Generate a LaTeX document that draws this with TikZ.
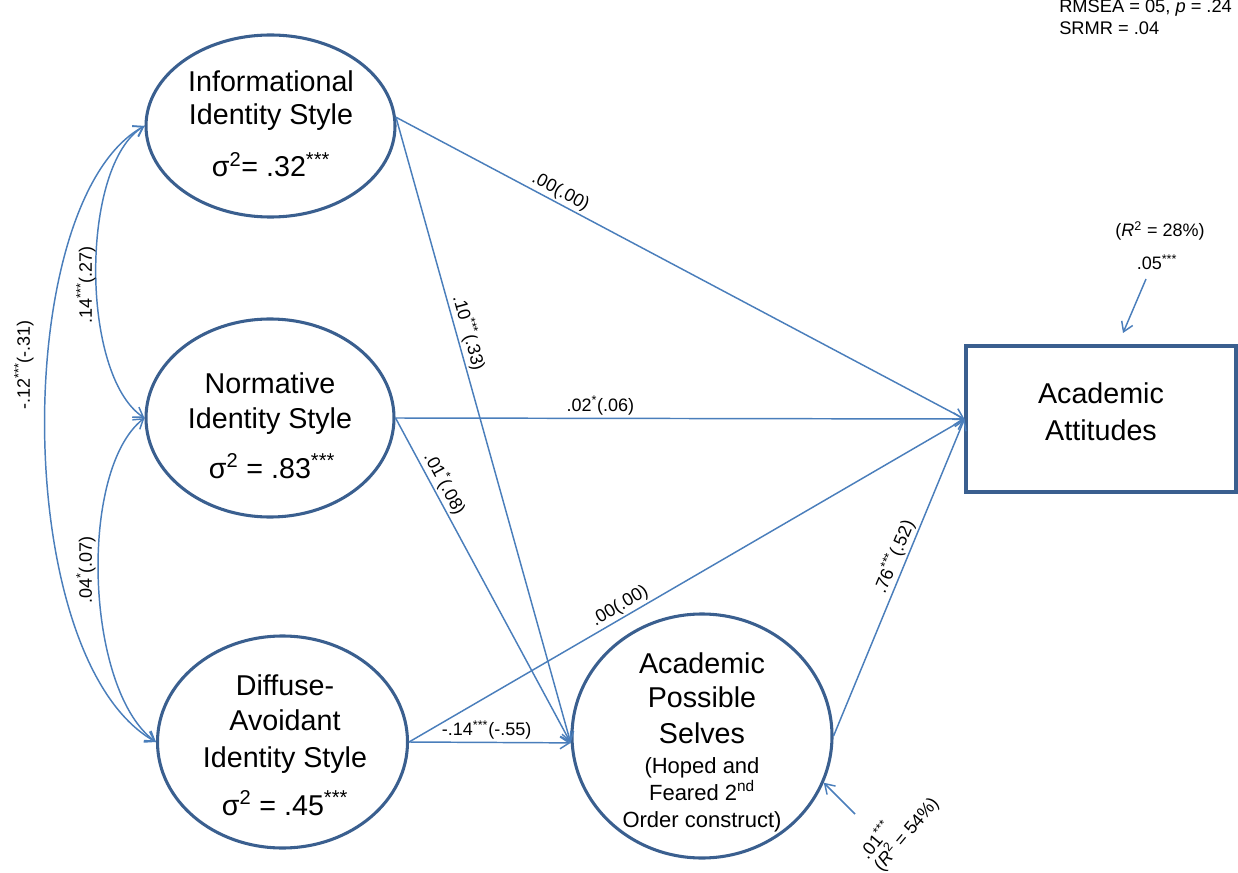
\documentclass[tikz,border=0pt]{standalone}
\usepackage{fontspec}
\setmainfont{Liberation Sans}
\usetikzlibrary{arrows.meta,shapes.geometric}
\definecolor{pathblue}{HTML}{4A7EBB}
\definecolor{shapeblue}{HTML}{3A5F8F}

\begin{document}
\begin{tikzpicture}[x=0.75pt,y=-0.75pt,
  latent/.style={ellipse,draw=shapeblue,line width=2.3pt,inner sep=0pt},
  observed/.style={rectangle,draw=shapeblue,line width=2.3pt,inner sep=0pt},
  bigtext/.style={anchor=base,inner sep=0pt,font=\fontsize{21.5}{26}\selectfont},
  smalltext/.style={anchor=base,inner sep=0pt,font=\fontsize{16.5}{20}\selectfont},
  lbl/.style={font=\fontsize{13.5}{15}\selectfont,inner sep=1.5pt},
  fitstat/.style={anchor=base west,inner sep=0pt,font=\fontsize{13.7}{16}\selectfont},
  barb/.tip={Straight Barb[length=7pt,width=9pt]},
  conn/.style={draw=pathblue,line width=1.1pt,-barb},
  cov/.style={draw=pathblue,line width=1.1pt,barb-barb}
]
\useasboundingbox (0,0) rectangle (1238,873);

% latent and observed variables
\node[latent,minimum width=186.75pt,minimum height=136.5pt] (info) at (270.5,126) {};
\node[latent,minimum width=186pt,minimum height=148.5pt] (norm) at (270,418) {};
\node[latent,minimum width=187.5pt,minimum height=159pt] (diff) at (282.5,742) {};
\node[latent,minimum width=195pt,minimum height=183pt] (aps) at (702,736) {};
\node[observed,minimum width=202.5pt,minimum height=109.5pt] (att) at (1101,419) {};

% variable texts
\node[bigtext] (infoA) at (271,92) {Informational};
\node[bigtext] (infoB) at (271,125) {Identity Style};
\node[bigtext] (infoC) at (271,177) {σ\textsuperscript{2}= .32\textsuperscript{***}};

\node[bigtext] (normA) at (270,393) {Normative};
\node[bigtext] (normB) at (270,428) {Identity Style};
\node[bigtext] (normC) at (272,478) {σ\textsuperscript{2} = .83\textsuperscript{***}};

\node[bigtext] (diffA) at (285,695) {Diffuse-};
\node[bigtext] (diffB) at (285,730) {Avoidant};
\node[bigtext] (diffC) at (285,767) {Identity Style};
\node[bigtext] (diffD) at (285,815) {σ\textsuperscript{2} = .45\textsuperscript{***}};

\node[bigtext] (apsA) at (702,673) {Academic};
\node[bigtext] (apsB) at (702,707) {Possible};
\node[bigtext] (apsC) at (702,743) {Selves};
\node[smalltext] (apsD) at (702,773) {(Hoped and};
\node[smalltext] (apsE) at (702,800) {Feared 2\textsuperscript{nd}};
\node[smalltext] (apsF) at (702,827) {Order construct)};

\node[bigtext] (attA) at (1101,403) {Academic};
\node[bigtext] (attB) at (1101,440) {Attitudes};

% structural paths
\draw[conn] (info.4) -- node[lbl,sloped,above,pos=0.28] (pIA) {.00(.00)} (att.west);
\draw[conn] (info.4) -- node[lbl,sloped,above,pos=0.35] (pIP) {.10\textsuperscript{***}(.33)} (aps.183);
\draw[conn] (norm.east) -- node[lbl,above,pos=0.36] (pNA) {.02\textsuperscript{*}(.06)} (att.west);
\draw[conn] (norm.east) -- node[lbl,sloped,above,pos=0.22] (pNP) {.01\textsuperscript{*}(.08)} (aps.183);
\draw[conn] (diff.east) -- node[lbl,sloped,above,pos=0.39] (pDA) {.00(.00)} (att.west);
\draw[conn] (diff.east) -- node[lbl,above,pos=0.48] (pDP) {-.14\textsuperscript{***}(-.55)} (aps.183);
\draw[conn] (aps.east) -- node[lbl,sloped,above,pos=0.55] (pPA) {.76\textsuperscript{***}(.52)} (att.west);

% covariances among identity styles
\draw[cov] (info.west) .. controls (80,165) and (80,375) .. (norm.west);
\draw[cov] (norm.west) .. controls (78,470) and (85,690) .. (diff.west);
\draw[cov] (info.west) .. controls (10,200) and (10,660) .. (diff.west);
\node[lbl,rotate=90] (cIN) at (86,285) {.14\textsuperscript{***}(.27)};
\node[lbl,rotate=90] (cND) at (86,570) {.04\textsuperscript{*}(.07)};
\node[lbl,rotate=90] (cID) at (24,365) {-.12\textsuperscript{***}(-.31)};

% disturbances
\coordinate (eAtt) at (1146,279);
\coordinate (eAttTip) at (1123,333);
\draw[conn] (eAtt) -- (eAttTip);
\node[lbl,anchor=base,inner sep=0pt] (r2att) at (1160,237) {(\textit{R}\textsuperscript{2} = 28\%)};
\node[lbl,anchor=base,inner sep=0pt] (dAtt) at (1157,270) {.05\textsuperscript{***}};

\coordinate (eAps) at (855,814);
\draw[conn] (eAps) -- (aps.-21);
\node[lbl,rotate=50,align=left,font=\fontsize{13.5}{14}\selectfont,inner sep=0pt] (r2aps) at (899,828) {.01\textsuperscript{***}\\(\textit{R}\textsuperscript{2} = 54\%)};

% fit statistics
\node[fitstat] (fitA) at (1059,13) {RMSEA = 05, \textit{p} = .24};
\node[fitstat] (fitB) at (1059,35) {SRMR = .04};
\end{tikzpicture}
\end{document}
